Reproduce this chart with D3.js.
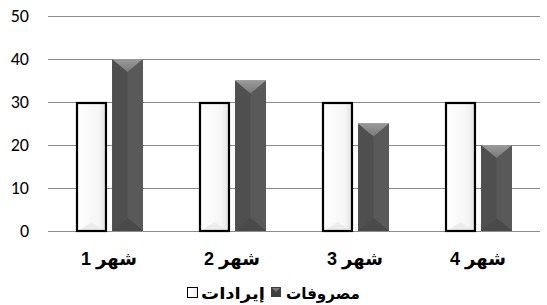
<!DOCTYPE html>
<html>
<head>
<meta charset="utf-8">
<script src="https://cdn.jsdelivr.net/npm/d3@7"></script>
<style>
  body { margin: 0; background: #fff; }
  svg { display: block; }
</style>
</head>
<body>
<svg id="canvas" width="547" height="305"></svg>
<script>
let categories = ['شهر 1', 'شهر 2', 'شهر 3', 'شهر 4']
let seriesNames = ['إيرادات', 'مصروفات']
let revenues = [30, 30, 30, 30]
let expenses = [40, 35, 25, 20]
let yTicks = [0, 10, 20, 30, 40, 50]

let canvas = d3.select('#canvas')
let defs = canvas.append('defs')

let whiteGrad = defs.append('linearGradient').attr('id', 'whiteGrad')
whiteGrad.append('stop').attr('offset', '0%').attr('stop-color', '#ffffff')
whiteGrad.append('stop').attr('offset', '75%').attr('stop-color', '#f6f6f6')
whiteGrad.append('stop').attr('offset', '100%').attr('stop-color', '#e2e2e2')

let topGrad = defs.append('linearGradient').attr('id', 'topGrad')
    .attr('x1', 0).attr('y1', 0).attr('x2', 0).attr('y2', 1)
topGrad.append('stop').attr('offset', '0%').attr('stop-color', '#9a9a9a')
topGrad.append('stop').attr('offset', '100%').attr('stop-color', '#7a7a7a')

let yScale = d3.scaleLinear().domain([0, 50]).range([231, 16])

let xScale = d3.scaleBand()
    .domain(categories)
    .range([48, 540])

let groupScale = d3.scaleBand()
    .domain(seriesNames)
    .range([28, 95])
    .paddingInner(0.14)

// gridlines
canvas.append('g')
    .selectAll('line')
    .data(yTicks)
    .enter()
    .append('line')
    .attr('x1', 48)
    .attr('x2', 540)
    .attr('y1', (d) => Math.round(yScale(d)) + 0.5)
    .attr('y2', (d) => Math.round(yScale(d)) + 0.5)
    .attr('stroke', '#8c8c8c')
    .attr('stroke-width', 1)

// y axis labels
let yAxis = d3.axisLeft(yScale).tickValues(yTicks).tickSize(0).tickPadding(0)
let yAxisG = canvas.append('g')
    .attr('transform', 'translate(29,0)')
    .call(yAxis)
yAxisG.select('.domain').remove()
yAxisG.selectAll('text')
    .attr('font-family', 'Carlito, "Liberation Sans", Arial, sans-serif')
    .attr('font-size', '18px')
    .attr('fill', '#000')

// bars
let groups = canvas.selectAll('.group')
    .data(categories)
    .enter()
    .append('g')
    .attr('class', 'group')
    .attr('transform', (d) => 'translate(' + xScale(d) + ',0)')

let bw = groupScale.bandwidth()

groups.each(function (d, i) {
    let g = d3.select(this)
    // revenue (white) bars
    let x = groupScale('إيرادات')
    let y = yScale(revenues[i])
    let h = yScale(0) - y
    g.append('rect')
        .attr('x', x + 1)
        .attr('y', y + 1)
        .attr('width', bw - 2)
        .attr('height', h - 1)
        .attr('fill', 'url(#whiteGrad)')
    let tri = 9
    g.append('polygon')
        .attr('points', [
            [x + 2, yScale(0)],
            [x + bw / 2, yScale(0) - tri],
            [x + bw - 2, yScale(0)]
        ].map((p) => p.join(',')).join(' '))
        .attr('fill', '#ececec')
    g.append('rect')
        .attr('x', x + 1)
        .attr('y', y + 1)
        .attr('width', bw - 2)
        .attr('height', h - 1)
        .attr('fill', 'none')
        .attr('stroke', '#000')
        .attr('stroke-width', 2.2)

    // expense (dark) bars
    let ex = groupScale('مصروفات')
    let ey = yScale(expenses[i])
    let eh = yScale(0) - ey
    let base = yScale(0)
    let depth = 13
    g.append('rect')
        .attr('x', ex)
        .attr('y', ey)
        .attr('width', bw)
        .attr('height', eh)
        .attr('fill', '#4f4f4f')
    g.append('polygon')
        .attr('points', [
            [ex + bw / 2, ey + depth],
            [ex + bw, ey],
            [ex + bw, base],
            [ex + bw / 2, base - depth]
        ].map((p) => p.join(',')).join(' '))
        .attr('fill', '#595959')
    g.append('polygon')
        .attr('points', [
            [ex, base],
            [ex + bw / 2, base - depth],
            [ex + bw, base]
        ].map((p) => p.join(',')).join(' '))
        .attr('fill', '#4a4a4a')
    g.append('polygon')
        .attr('points', [
            [ex, ey],
            [ex + bw, ey],
            [ex + bw / 2, ey + depth]
        ].map((p) => p.join(',')).join(' '))
        .attr('fill', 'url(#topGrad)')
})

// category labels
groups.append('text')
    .text((d) => d)
    .attr('x', 61)
    .attr('y', 265)
    .attr('text-anchor', 'middle')
    .attr('direction', 'rtl')
    .attr('font-family', 'Arial, "DejaVu Sans", sans-serif')
    .attr('font-weight', 'bold')
    .attr('font-size', '18px')
    .attr('fill', '#000')

// legend
let legend = canvas.append('g')

let placeText = (label, left, right) => {
    let t = legend.append('text')
        .text(label)
        .attr('x', 0)
        .attr('y', 299)
        .attr('font-family', 'Arial, "DejaVu Sans", sans-serif')
        .attr('font-weight', 'bold')
        .attr('font-size', '16px')
    let box = t.node().getBBox()
    let k = (right - left) / box.width
    t.attr('transform', 'translate(' + left + ',0) scale(' + k + ',1) translate(' + (-box.x) + ',0)')
}

legend.append('rect')
    .attr('x', 187.5).attr('y', 287.5)
    .attr('width', 10).attr('height', 10)
    .attr('fill', 'url(#whiteGrad)')
    .attr('stroke', '#000')
placeText(seriesNames[0], 201, 265)
legend.append('rect')
    .attr('x', 271).attr('y', 287)
    .attr('width', 10).attr('height', 10)
    .attr('fill', '#3f3f3f')
legend.append('polygon')
    .attr('points', '272,288 280,288 276,292')
    .attr('fill', '#7a7a7a')
placeText(seriesNames[1], 286, 360)
</script>
</body>
</html>
